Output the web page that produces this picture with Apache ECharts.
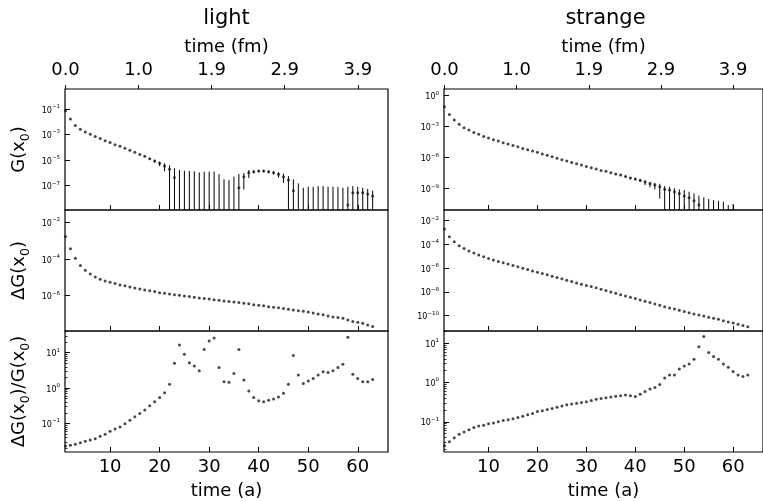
<!DOCTYPE html>
<html><head><meta charset="utf-8">
<script src="https://cdn.jsdelivr.net/npm/echarts@6/dist/echarts.min.js"></script>
<style>html,body{margin:0;padding:0;background:#fff}#c{width:763px;height:501px}</style>
</head><body><div id="c"></div>
<script>
// ---------------- data ----------------
const timeSlices = [1,2,3,4,5,6,7,8,9,10,11,12,13,14,15,16,17,18,19,20,21,22,23,24,25,26,27,28,29,30,31,32,33,34,35,36,37,38,39,40,41,42,43,44,45,46,47,48,49,50,51,52,53,54,55,56,57,58,59,60,61,62,63];

const lightG = [7.1e-2,1.66e-2,5.0e-3,2.57e-3,1.58e-3,1.05e-3,6.9e-4,4.8e-4,3.3e-4,2.34e-4,1.62e-4,1.20e-4,8.3e-5,5.9e-5,4.1e-5,2.8e-5,2.0e-5,1.29e-5,8.5e-6,5.6e-6,3.5e-6,1.9e-6,4.3e-7,
 -2e-7,-1e-7,-2e-7,-1e-7,-3e-7,-1e-7,-2e-7,-1e-7,-2e-7,-4e-7,-4e-7,-3e-7,6.9e-8,5.1e-7,1.05e-6,1.26e-6,1.41e-6,1.41e-6,1.26e-6,1.05e-6,7.8e-7,5.1e-7,2.75e-7,4.1e-8,
 -5e-8,-3e-8,-3e-8,-2e-8,-2e-8,-3e-8,-2e-8,-3e-8,-2e-8,-3e-8,3.1e-9,2.8e-8,2.8e-8,2.8e-8,2.24e-8,1.55e-8];
const lightGErr = [0,0,0,0,0,0,0,0,0,0,0,0,0,0,0,0,1.0e-6,1.5e-6,2.2e-6,2.2e-6,2.2e-6,2.0e-6,1.87e-6,
 1.9e-6,1.58e-6,1.61e-6,1.42e-6,1.40e-6,1.36e-6,1.46e-6,1.36e-6,1.01e-6,7.2e-7,6.75e-7,8.1e-7,7.4e-7,4.6e-7,6.5e-7,3.5e-7,3.0e-7,3.0e-7,3.0e-7,3.0e-7,3.5e-7,3.5e-7,2.9e-7,2.7e-7,
 2.0e-7,9.9e-8,1.13e-7,1.03e-7,1.13e-7,1.23e-7,1.03e-7,1.13e-7,9.8e-8,9.9e-8,8.0e-8,6.5e-8,5.5e-8,4.1e-8,3.3e-8,2.55e-8];
const lightDG = [1.66e-3,3.55e-4,1.10e-4,4.4e-5,2.4e-5,1.51e-5,1.05e-5,7.8e-6,6.3e-6,5.4e-6,4.5e-6,3.8e-6,3.4e-6,2.95e-6,2.63e-6,2.29e-6,2.04e-6,1.86e-6,1.66e-6,1.45e-6,1.35e-6,1.23e-6,1.12e-6,
 1.05e-6,9.5e-7,8.9e-7,8.1e-7,7.4e-7,6.9e-7,6.6e-7,6.0e-7,5.6e-7,5.1e-7,4.7e-7,4.5e-7,4.2e-7,3.8e-7,3.55e-7,3.2e-7,2.95e-7,2.75e-7,2.5e-7,2.29e-7,2.14e-7,1.95e-7,1.78e-7,1.66e-7,
 1.51e-7,1.41e-7,1.29e-7,1.12e-7,1.0e-7,8.9e-8,7.8e-8,6.9e-8,6.3e-8,5.75e-8,4.7e-8,3.8e-8,3.55e-8,3.1e-8,2.5e-8,2.04e-8];
const lightRatio = [2.29e-2,2.4e-2,2.57e-2,2.82e-2,3.1e-2,3.4e-2,3.7e-2,4.3e-2,4.9e-2,6.0e-2,6.9e-2,7.9e-2,9.8e-2,0.123,0.155,0.19,0.24,0.316,0.41,0.54,0.74,1.29,5.0,
 16.6,9.1,5.2,4.2,3.1,12.3,21.4,26.3,3.8,1.51,1.45,2.57,12.3,1.70,0.83,0.54,0.44,0.41,0.45,0.49,0.56,0.71,1.29,8.3,
 2.34,1.35,1.58,1.86,2.34,2.88,2.75,3.1,3.8,4.7,27.5,2.45,1.86,1.51,1.51,1.74];

const strangeG = [8.7e-2,1.55e-2,4.5e-3,1.70e-3,7.9e-4,4.8e-4,2.8e-4,1.82e-4,1.15e-4,7.9e-5,5.5e-5,4.1e-5,2.8e-5,2.1e-5,1.55e-5,1.15e-5,7.9e-6,5.9e-6,4.5e-6,3.3e-6,2.24e-6,1.70e-6,1.26e-6,
 8.7e-7,6.5e-7,4.8e-7,3.5e-7,2.6e-7,1.95e-7,1.45e-7,1.07e-7,7.9e-8,5.9e-8,4.8e-8,3.5e-8,2.6e-8,2.1e-8,1.55e-8,1.07e-8,8.7e-9,6.5e-9,4.5e-9,3.0e-9,2.24e-9,1.55e-9,8.7e-10,7.4e-10,
 5.1e-10,3.5e-10,1.95e-10,1.35e-10,6.9e-11,2.6e-11,-2e-11,-1e-11,-2e-11,-1e-11,-2e-11,-1e-11,-2e-11,-1e-11,-1e-11,-1e-11];
const strangeGErr = [0,0,0,0,0,0,0,0,0,0,0,0,0,0,0,0,0,0,0,0,0,0,0,
 0,0,0,0,0,0,0,0,0,0,0,0,3e-9,3e-9,3e-9,2.5e-9,2.2e-9,2.0e-9,2.2e-9,1.65e-9,1.37e-9,1.44e-9,9.5e-10,7.8e-10,
 6.0e-10,5.2e-10,5.5e-10,3.8e-10,2.85e-10,1.83e-10,1.65e-10,1.1e-10,9.9e-11,7.5e-11,7.5e-11,3.6e-11,5.3e-11,1.5e-11,1.4e-11,1.3e-11];
const strangeDG = [2.0e-3,4.5e-4,1.70e-4,7.8e-5,4.6e-5,2.75e-5,1.86e-5,1.26e-5,9.1e-6,6.6e-6,4.8e-6,3.6e-6,2.82e-6,2.19e-6,1.70e-6,1.29e-6,1.0e-6,7.8e-7,5.9e-7,4.6e-7,3.55e-7,2.75e-7,2.1e-7,
 1.62e-7,1.26e-7,9.8e-8,7.4e-8,5.75e-8,4.5e-8,3.5e-8,2.82e-8,2.19e-8,1.70e-8,1.29e-8,1.0e-8,7.8e-9,5.9e-9,4.6e-9,3.55e-9,2.75e-9,2.1e-9,1.62e-9,1.26e-9,9.8e-10,7.4e-10,5.75e-10,4.5e-10,
 3.6e-10,2.82e-10,2.19e-10,1.78e-10,1.38e-10,1.15e-10,9.3e-11,7.2e-11,5.9e-11,4.9e-11,3.8e-11,2.9e-11,2.4e-11,1.86e-11,1.51e-11,1.17e-11];
const strangeRatio = [2.45e-2,3.1e-2,3.9e-2,4.8e-2,5.5e-2,6.3e-2,7.1e-2,7.8e-2,8.1e-2,8.9e-2,9.3e-2,0.100,0.107,0.112,0.120,0.129,0.138,0.151,0.162,0.182,0.19,0.204,0.219,
 0.234,0.251,0.269,0.282,0.295,0.309,0.324,0.347,0.372,0.389,0.407,0.427,0.447,0.457,0.479,0.457,0.437,0.50,0.59,0.68,0.74,0.89,1.29,1.55,
 1.55,2.19,2.63,2.95,3.9,8.1,14.8,5.75,4.6,3.9,2.95,2.45,1.91,1.55,1.41,1.55];

// tick labels
const xTickValues = [10,20,30,40,50,60];
const fmTickPos = [1,15.75,30.5,45.25,60];
const fmTickLabels = ['0.0','1.0','1.9','2.9','3.9'];
const columnTitles = ['light','strange'];
const yMajor = [
  [1e-7,1e-5,1e-3,1e-1],[1e-6,1e-4,1e-2],[0.1,1,10],
  [1e-9,1e-6,1e-3,1],[1e-10,1e-8,1e-6,1e-4,1e-2],[0.1,1,10]
];
const yMinorLight = [0.02,0.03,0.04,0.05,0.06,0.07,0.08,0.09,0.2,0.3,0.4,0.5,0.6,0.7,0.8,0.9,2,3,4,5,6,7,8,9,20,30,40];
const yMinorStrange = [0.02,0.03,0.04,0.05,0.06,0.07,0.08,0.09,0.2,0.3,0.4,0.5,0.6,0.7,0.8,0.9,2,3,4,5,6,7,8,9,20];

// ---------------- layout ----------------
const FONT = 'DejaVu Sans';
const colLeft = [65, 444];
const rowTop = [89, 210, 331];
const PW = 323, PH = 121;
const X_MIN = 0.9, X_MAX = 66.1;
const yLimits = [
  [1.26e-9, 3.63],[1.17e-8, 0.0468],[0.0155, 41.2],
  [8.7e-12, 4.47],[5.1e-12, 0.079],[0.017, 20.4]
];

function powLabel(v){
  const e = Math.round(Math.log10(v));
  const s = e < 0 ? '\u2212' + (-e) : '' + e;
  return '{b|10}{s|' + s + '}';
}
const yNames = [
  '{n|G(x}{sub|0}{n|)}',
  '{n|\u0394G(x}{sub|0}{n|)}',
  '{n|\u0394G(x}{sub|0}{n|)/G(x}{sub|0}{n|)}'
];

const grid = [], xAxis = [], yAxis = [], series = [];
for (let c = 0; c < 2; c++) {
  for (let r = 0; r < 3; r++) {
    const gi = c * 3 + r;
    grid.push({left: colLeft[c], top: rowTop[r], width: PW, height: PH, show: true,
      borderColor: '#000', borderWidth: 1.2, backgroundColor: 'transparent', containLabel: false});
    xAxis.push({type: 'value', gridIndex: gi, min: X_MIN, max: X_MAX, position: 'bottom',
      axisLine: {show: false}, splitLine: {show: false},
      axisTick: {show: true, inside: true, length: 5, customValues: xTickValues, lineStyle: {color: '#000', width: 1}},
      axisLabel: {show: r === 2, customValues: xTickValues, fontSize: 18, margin: 6, color: '#000', fontFamily: FONT},
      name: r === 2 ? 'time (a)' : '', nameLocation: 'middle', nameGap: 30,
      nameTextStyle: {fontSize: 18, color: '#000', fontFamily: FONT}
    });
    yAxis.push({type: 'log', gridIndex: gi, min: yLimits[gi][0], max: yLimits[gi][1], position: 'left',
      axisLine: {show: false}, splitLine: {show: false}, minorTick: {show: false},
      axisTick: {show: true, inside: true, length: 5, customValues: yMajor[gi], lineStyle: {color: '#000', width: 1}},
      axisLabel: {show: true, customValues: yMajor[gi], formatter: powLabel, margin: 5, color: '#000',
        rich: {b: {fontSize: 8, fontFamily: FONT, color: '#000', lineHeight: 11, verticalAlign: 'bottom'},
               s: {fontSize: 5.5, fontFamily: FONT, color: '#000', lineHeight: 6, verticalAlign: 'top'}}},
      name: c === 0 ? yNames[r] : '', nameLocation: 'middle', nameGap: 33,
      nameTextStyle: {rich: {n: {fontSize: 18, fontFamily: FONT, color: '#000', lineHeight: 22, verticalAlign: 'top'},
                             sub: {fontSize: 12.5, fontFamily: FONT, color: '#000', lineHeight: 13, verticalAlign: 'bottom'}}}
    });
  }
}
// top time (fm) axes
[0, 3].forEach(gi => {
  xAxis.push({type: 'value', gridIndex: gi, min: X_MIN, max: X_MAX, position: 'top',
    axisLine: {show: false}, splitLine: {show: false},
    axisTick: {show: true, inside: false, length: 4, customValues: fmTickPos, lineStyle: {color: '#000', width: 1}},
    axisLabel: {show: true, customValues: fmTickPos, fontSize: 18, margin: 10, color: '#000', fontFamily: FONT,
      formatter: v => { const k = fmTickPos.findIndex(p => Math.abs(p - v) < 1e-6); return k >= 0 ? fmTickLabels[k] : ''; }},
    name: 'time (fm)', nameLocation: 'middle', nameGap: 33,
    nameTextStyle: {fontSize: 18, color: '#000', fontFamily: FONT}
  });
});
// minor ticks on the ratio panels
[[2, yMinorLight], [5, yMinorStrange]].forEach(([gi, minors]) => {
  yAxis.push({type: 'log', gridIndex: gi, min: yLimits[gi][0], max: yLimits[gi][1], position: 'left',
    axisLine: {show: false}, splitLine: {show: false}, axisLabel: {show: false},
    axisTick: {show: true, inside: true, length: 2.5, customValues: minors, lineStyle: {color: '#000', width: 0.8}}
  });
});

const DOT = {color: '#1a1a1a'};
function dots(gi, vals) {
  const data = [];
  timeSlices.forEach((t, i) => { if (vals[i] > 0) data.push([t, vals[i]]); });
  series.push({type: 'scatter', xAxisIndex: gi, yAxisIndex: gi, data, symbol: 'circle', symbolSize: 3,
    itemStyle: DOT, clip: true, silent: true, z: 3});
}
function errBars(gi, vals, errs) {
  const lo = yLimits[gi][0];
  const data = [];
  timeSlices.forEach((t, i) => {
    const hi = vals[i] + errs[i];
    if (errs[i] > 0 && hi > lo) data.push([t, Math.max(vals[i] - errs[i], lo), hi]);
  });
  series.push({type: 'custom', xAxisIndex: gi, yAxisIndex: gi, data, clip: true, silent: true, z: 2,
    encode: {x: 0, y: [1, 2]},
    renderItem: (params, api) => {
      const p1 = api.coord([api.value(0), api.value(1)]);
      const p2 = api.coord([api.value(0), api.value(2)]);
      return {type: 'line', shape: {x1: p1[0], y1: p1[1], x2: p2[0], y2: p2[1]},
        style: {stroke: '#000', lineWidth: 1}};
    }});
}
errBars(0, lightG, lightGErr); dots(0, lightG);
dots(1, lightDG); dots(2, lightRatio);
errBars(3, strangeG, strangeGErr); dots(3, strangeG);
dots(4, strangeDG); dots(5, strangeRatio);

const graphic = columnTitles.map((t, c) => ({type: 'text', x: colLeft[c] + PW / 2, y: 19,
  style: {text: t, fontSize: 21, fontFamily: FONT, fill: '#000', align: 'center', verticalAlign: 'middle'}}));

const chart = echarts.init(document.getElementById('c'), null, {renderer: 'canvas'});
chart.setOption({animation: false, backgroundColor: '#fff', textStyle: {fontFamily: FONT},
  grid, xAxis, yAxis, series, graphic});
</script></body></html>
